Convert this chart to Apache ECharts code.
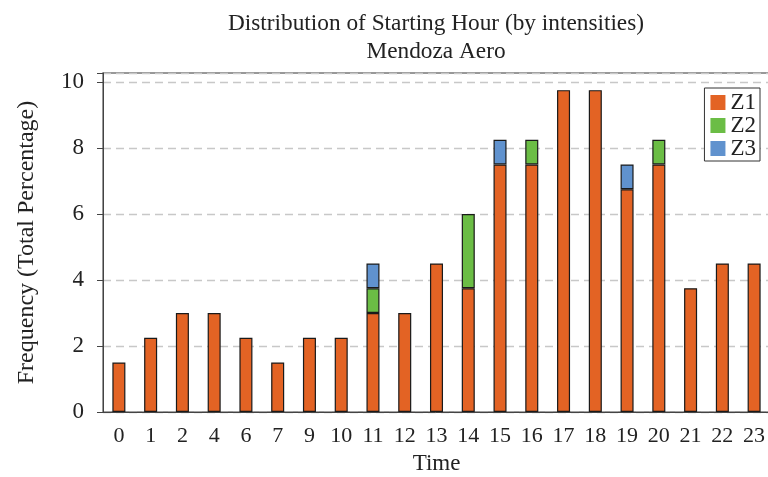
<!DOCTYPE html>
<html>
<head>
<meta charset="utf-8">
<script src="https://cdn.jsdelivr.net/npm/echarts@6/dist/echarts.min.js"></script>
<style>
html,body{margin:0;padding:0;background:#fff;}
#chart{width:768px;height:477px;}
</style>
</head>
<body>
<div id="chart"></div>
<script>
const hours = ['0','1','2','4','6','7','9','10','11','12','13','14','15','16','17','18','19','20','21','22','23'];
const z1 = [1.5,2.25,3,3,2.25,1.5,2.25,2.25,3,3,4.5,3.75,7.5,7.5,9.75,9.75,6.75,7.5,3.75,4.5,4.5];
const z2 = [null,null,null,null,null,null,null,null,0.75,null,null,2.25,null,0.75,null,null,null,0.75,null,null,null];
const z3 = [null,null,null,null,null,null,null,null,0.75,null,null,null,0.75,null,null,null,0.75,null,null,null,null];
const yTicks = [0,2,4,6,8,10];

const font = 'Liberation Serif, Times New Roman, serif';
const chart = echarts.init(document.getElementById('chart'), null, {renderer:'canvas'});
const mk = (name, data, color) => ({
  name, type:'bar', stack:'t', data, barWidth:'41%',
  itemStyle:{color, borderColor:'#1a1a1a', borderWidth:1.2}
});
chart.setOption({
  animation:false,
  textStyle:{fontFamily:font},
  title:{
    text:'Distribution of Starting Hour (by intensities)\nMendoza Aero',
    left:431, top:5, textAlign:'center',
    textStyle:{fontFamily:font, fontSize:23.3, fontWeight:'normal', color:'#222', lineHeight:28}
  },
  legend:{
    orient:'vertical', right:8, top:88,
    itemWidth:15, itemHeight:15, itemGap:0,
    padding:[3,4,1,6],
    borderColor:'#333', borderWidth:1, borderRadius:0,
    backgroundColor:'#fff',
    icon:'rect',
    itemStyle:{borderWidth:0},
    textStyle:{fontFamily:font, fontSize:23, color:'#222'},
    data:['Z1','Z2','Z3']
  },
  grid:{left:103, right:-2, top:73, bottom:65, outerBoundsMode:'none', containLabel:false,
        show:true, borderColor:'#777', borderWidth:1.5},
  xAxis:{
    type:'category', data:hours,
    name:'Time', nameLocation:'middle', nameGap:40,
    nameTextStyle:{fontFamily:font, fontSize:23, color:'#222'},
    axisLine:{lineStyle:{color:'#444', width:1}},
    axisTick:{show:false},
    axisLabel:{fontFamily:font, fontSize:22, color:'#222', margin:13, interval:0}
  },
  yAxis:{
    type:'value', min:0, max:10.27, interval:2,
    name:'Frequency (Total Percentage)', nameLocation:'middle', nameGap:64,
    nameTextStyle:{fontFamily:font, fontSize:24, color:'#222'},
    axisLine:{show:true, lineStyle:{color:'#444', width:1}},
    axisTick:{show:true, length:6, lineStyle:{color:'#444'}},
    axisLabel:{fontFamily:font, fontSize:23, color:'#222', margin:19,
      formatter: v => (yTicks.indexOf(v) >= 0 ? String(v) : '')},
    splitLine:{show:true, lineStyle:{color:'#c8c8c8', type:[8,5], width:1.3}}
  },
  series:[mk('Z1', z1, '#E36324'), mk('Z2', z2, '#6BBD45'), mk('Z3', z3, '#6092CE')]
});
</script>
</body>
</html>
